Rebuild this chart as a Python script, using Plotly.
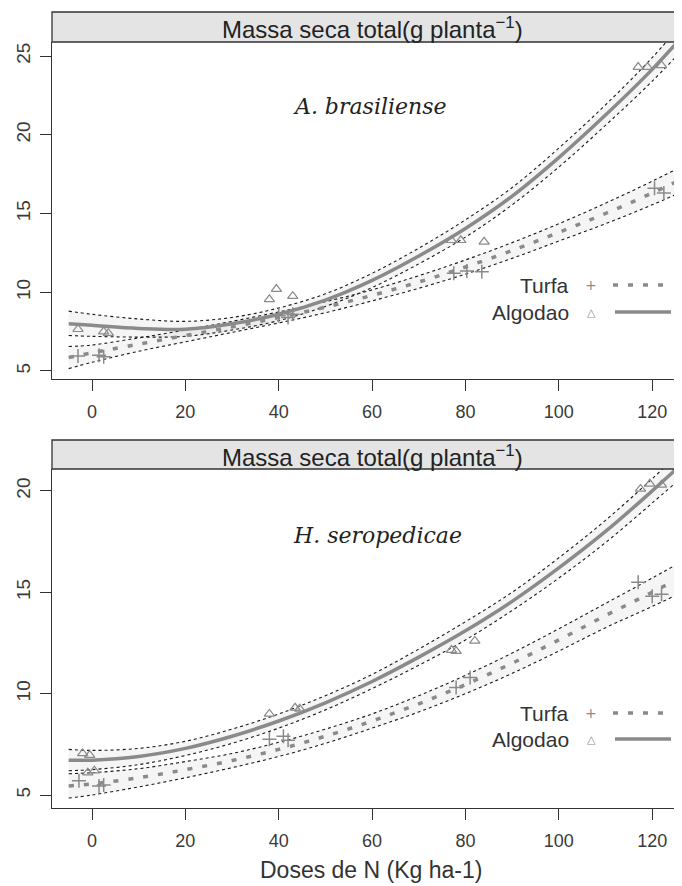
import plotly.graph_objects as go

W, H = 682, 886

# ---------------- data ----------------
x_grid = [-5, 0, 10, 20, 30, 40, 50, 60, 70, 80, 90, 100, 110, 120, 130]

# Panel 1: A. brasiliense
a_alg_mean = [8.0, 7.9, 7.7, 7.65, 8.0, 8.6, 9.5, 10.75, 12.3, 14.05, 16.1, 18.55, 21.25, 24.15, 27.4]
a_alg_up = [8.8, 8.6, 8.3, 8.15, 8.4, 9.0, 9.9, 11.2, 12.8, 14.6, 16.65, 19.15, 21.9, 24.9, 28.3]
a_alg_lo = [7.25, 7.2, 7.15, 7.2, 7.6, 8.2, 9.1, 10.3, 11.8, 13.5, 15.55, 17.95, 20.6, 23.4, 26.5]
a_tur_mean = [5.85, 6.15, 6.7, 7.25, 7.8, 8.4, 9.05, 9.8, 10.65, 11.6, 12.65, 13.8, 15.0, 16.3, 17.7]
a_tur_up = [6.55, 6.65, 7.1, 7.6, 8.15, 8.75, 9.4, 10.15, 11.05, 12.05, 13.15, 14.35, 15.65, 17.05, 18.55]
a_tur_lo = [5.15, 5.55, 6.25, 6.85, 7.45, 8.05, 8.7, 9.45, 10.25, 11.15, 12.15, 13.25, 14.35, 15.55, 16.85]

a_alg_px = [-3, 2.5, 3.5, 38, 39.5, 43, 77, 79, 84, 117, 119, 122]
a_alg_py = [7.65, 7.5, 7.4, 9.55, 10.2, 9.75, 13.3, 13.3, 13.2, 24.3, 24.3, 24.4]
a_tur_px = [-3, 1.5, 2.5, 40, 42, 43, 77.5, 80.3, 83.5, 120.5, 122.5]
a_tur_py = [5.95, 6.0, 5.9, 8.5, 8.4, 8.6, 11.2, 11.35, 11.3, 16.6, 16.3]

# Panel 2: H. seropedicae
h_alg_mean = [6.72, 6.72, 6.9, 7.3, 7.9, 8.65, 9.55, 10.6, 11.8, 13.1, 14.55, 16.2, 18.0, 20.0, 22.1]
h_alg_up = [7.25, 7.2, 7.3, 7.65, 8.25, 9.0, 9.9, 10.95, 12.2, 13.55, 15.0, 16.7, 18.55, 20.6, 22.8]
h_alg_lo = [6.2, 6.25, 6.5, 6.95, 7.55, 8.3, 9.2, 10.25, 11.4, 12.65, 14.1, 15.7, 17.45, 19.4, 21.4]
h_tur_mean = [5.45, 5.55, 5.85, 6.25, 6.7, 7.25, 7.9, 8.65, 9.5, 10.45, 11.5, 12.65, 13.85, 15.0, 16.2]
h_tur_up = [6.05, 6.1, 6.3, 6.65, 7.05, 7.6, 8.25, 9.0, 9.9, 10.9, 12.0, 13.2, 14.45, 15.7, 17.0]
h_tur_lo = [4.85, 5.0, 5.4, 5.85, 6.35, 6.9, 7.55, 8.3, 9.1, 10.0, 11.0, 12.1, 13.25, 14.3, 15.4]

h_alg_px = [-2, -0.5, -0.9, 0.5, 38, 43.5, 44.5, 77, 78, 82, 117.5, 119.5, 122]
h_alg_py = [7.05, 6.97, 6.1, 6.2, 9.0, 9.3, 9.25, 12.15, 12.1, 12.6, 20.1, 20.35, 20.3]
h_tur_px = [-2.8, 1.5, 2.5, 38, 41, 42, 78, 81, 117, 120, 122]
h_tur_py = [5.7, 5.45, 5.5, 7.75, 7.9, 7.7, 10.3, 10.8, 15.5, 14.8, 14.9]

x_ticks = [0, 20, 40, 60, 80, 100, 120]
y_ticks = [5, 10, 15, 20, 25]
strip_title = "Massa seca total(g planta<sup>−1</sup>)"
species = ["A. brasiliense", "H. seropedicae"]
legend_labels = ["Turfa", "Algodao"]
x_title = "Doses de N (Kg ha-1)"

# ---------------- style ----------------
GRAY = "#8a8a8a"
DARK = "#333333"
FONT = "Liberation Sans, Arial"

LEFT = 44
panels = [
    dict(top=34, bot=371, strip_top=4, yr=[4.49, 25.89], sp_y=98, sp_x=362, leg=[277, 304]),
    dict(top=461, bot=800, strip_top=432, yr=[4.36, 21.08], sp_y=527, sp_x=369, leg=[705, 731]),
]
XR = [-8.57, 128.1]


def py(p):
    return 1 - p / H


fig = go.Figure()

datasets = [
    (a_alg_mean, a_alg_up, a_alg_lo, a_tur_mean, a_tur_up, a_tur_lo,
     a_alg_px, a_alg_py, a_tur_px, a_tur_py),
    (h_alg_mean, h_alg_up, h_alg_lo, h_tur_mean, h_tur_up, h_tur_lo,
     h_alg_px, h_alg_py, h_tur_px, h_tur_py),
]

for i, d in enumerate(datasets):
    xa = "x" if i == 0 else "x2"
    ya = "y" if i == 0 else "y2"
    am, au, al, tm, tu, tl, apx, apy, tpx, tpy = d
    for up, lo in ((au, al), (tu, tl)):
        fig.add_trace(go.Scatter(x=x_grid, y=lo, mode="lines", line=dict(width=0, shape="spline"),
                                 xaxis=xa, yaxis=ya, showlegend=False, hoverinfo="skip"))
        fig.add_trace(go.Scatter(x=x_grid, y=up, mode="lines", line=dict(width=0, shape="spline"),
                                 fill="tonexty", fillcolor="rgba(200,200,200,0.18)",
                                 xaxis=xa, yaxis=ya, showlegend=False, hoverinfo="skip"))
    for ci in (au, al, tu, tl):
        fig.add_trace(go.Scatter(x=x_grid, y=ci, mode="lines",
                                 line=dict(color="#1a1a1a", width=1.1, dash="3px,3px", shape="spline"),
                                 xaxis=xa, yaxis=ya, showlegend=False))
    fig.add_trace(go.Scatter(x=x_grid, y=tm, mode="lines",
                             line=dict(color=GRAY, width=3.5, dash="5px,10px", shape="spline"),
                             xaxis=xa, yaxis=ya, showlegend=False))
    fig.add_trace(go.Scatter(x=x_grid, y=am, mode="lines",
                             line=dict(color=GRAY, width=3.5, shape="spline"),
                             xaxis=xa, yaxis=ya, showlegend=False))
    fig.add_trace(go.Scatter(x=apx, y=apy, mode="markers",
                             marker=dict(symbol="triangle-up-open", size=9, color=GRAY,
                                         line=dict(width=1.2, color=GRAY)),
                             xaxis=xa, yaxis=ya, showlegend=False))
    fig.add_trace(go.Scatter(x=tpx, y=tpy, mode="markers",
                             marker=dict(symbol="cross-thin-open", size=10, color=GRAY,
                                         line=dict(width=1.5, color=GRAY)),
                             xaxis=xa, yaxis=ya, showlegend=False))

shapes = []
annotations = []
axis_common = dict(showline=True, linecolor=DARK, linewidth=1.3, ticks="outside", ticklen=11,
                   tickcolor=DARK, tickwidth=1.2, showgrid=False, zeroline=False, mirror=False,
                   tickfont=dict(family=FONT, size=18, color="#3a3a3a"))

layout = dict(width=W, height=H, margin=dict(l=0, r=0, t=0, b=0),
              paper_bgcolor="white", plot_bgcolor="white", showlegend=False)

for i, p in enumerate(panels):
    xk = "xaxis" if i == 0 else "xaxis2"
    yk = "yaxis" if i == 0 else "yaxis2"
    layout[xk] = dict(axis_common, domain=[LEFT / W, 1], range=XR, anchor="y" if i == 0 else "y2",
                      tickvals=x_ticks, ticklabelstandoff=5)
    layout[yk] = dict(axis_common, domain=[py(p["bot"]), py(p["top"])], range=p["yr"],
                      anchor="x" if i == 0 else "x2", tickvals=y_ticks, tickangle=-90,
                      ticklabelstandoff=2, tickfont=dict(family=FONT, size=19, color="#3a3a3a"))
    shapes.append(dict(type="rect", xref="paper", yref="paper", x0=LEFT / W, x1=1.02,
                       y0=py(p["top"]), y1=py(p["strip_top"]), fillcolor="#e4e4e4",
                       line=dict(color=DARK, width=1.3), layer="above"))
    annotations.append(dict(xref="paper", yref="paper", x=364 / W, y=py((p["top"] + p["strip_top"]) / 2 + 1),
                            text=strip_title, showarrow=False, xanchor="center", yanchor="middle",
                            font=dict(family=FONT, size=24, color="#222")))
    annotations.append(dict(xref="paper", yref="paper", x=p["sp_x"] / W, y=py(p["sp_y"]),
                            text="<i>" + species[i] + "</i>",
                            showarrow=False, xanchor="center", yanchor="middle",
                            font=dict(family="DejaVu Serif", size=22, color="#222")))
    for j, lab in enumerate(legend_labels):
        ly = p["leg"][j]
        annotations.append(dict(xref="paper", yref="paper", x=563 / W, y=py(ly), text=lab,
                                showarrow=False, xanchor="right", yanchor="middle",
                                font=dict(family=FONT, size=21, color="#333")))
        sym = "+" if j == 0 else "△"
        annotations.append(dict(xref="paper", yref="paper", x=583 / W, y=py(ly), text=sym,
                                showarrow=False, xanchor="center", yanchor="middle",
                                font=dict(family="DejaVu Sans", size=11 if j else 14, color=GRAY)))
        if j == 0:
            shapes.append(dict(type="line", xref="paper", yref="paper", x0=605 / W, x1=665 / W,
                               y0=py(ly), y1=py(ly),
                               line=dict(color=GRAY, width=3.5, dash="5px,10px")))
        else:
            shapes.append(dict(type="line", xref="paper", yref="paper", x0=607 / W, x1=663 / W,
                               y0=py(ly), y1=py(ly), line=dict(color=GRAY, width=3.5)))

annotations.append(dict(xref="paper", yref="paper", x=363 / W, y=py(862), text=x_title,
                        showarrow=False, xanchor="center", yanchor="middle",
                        font=dict(family=FONT, size=23, color="#333")))

layout["shapes"] = shapes
layout["annotations"] = annotations
fig.update_layout(**layout)
fig.write_html("out.html")
